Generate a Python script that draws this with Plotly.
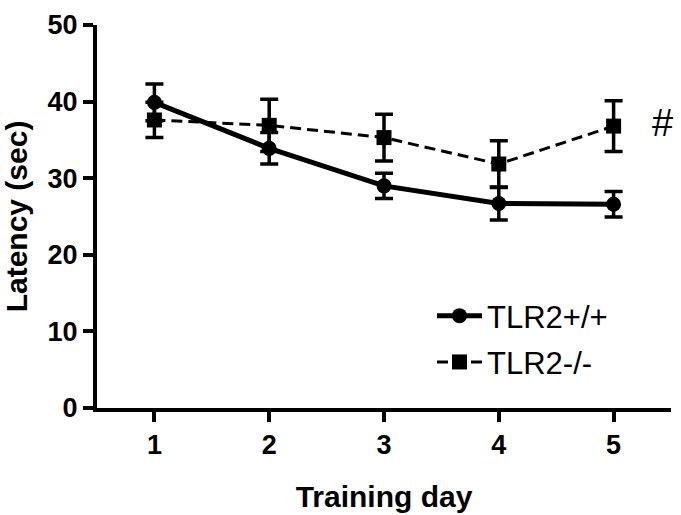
import plotly.graph_objects as go

days = [1, 2, 3, 4, 5]
tick_labels = ["1", "2", "3", "4", "5"]
wt_mean = [39.9, 33.9, 29.0, 26.7, 26.6]
wt_sem = [2.4, 2.05, 1.65, 2.15, 1.65]
ko_mean = [37.6, 36.9, 35.3, 31.85, 36.8]
ko_sem = [2.3, 3.4, 3.05, 3.05, 3.3]
y_ticks = [0, 10, 20, 30, 40, 50]

FONT = "Liberation Sans, Arial, sans-serif"

fig = go.Figure()
fig.add_trace(go.Scatter(
    x=days, y=ko_mean, name="TLR2-/-", mode="lines+markers",
    line=dict(color="black", width=3, dash="11px,6px"),
    marker=dict(symbol="square", size=15, color="black"),
    error_y=dict(type="data", array=ko_sem, visible=True, color="black", thickness=3.5, width=9),
    legendrank=2, legendgroup="ko",
))
fig.add_trace(go.Scatter(
    x=days, y=wt_mean, name="TLR2+/+", mode="lines+markers",
    line=dict(color="black", width=5),
    marker=dict(symbol="circle", size=15, color="black"),
    error_y=dict(type="data", array=wt_sem, visible=True, color="black", thickness=3.5, width=9),
    legendrank=1, legendgroup="wt",
))

fig.add_annotation(x=5.43, y=37.2, xref="x", yref="y", text="#", showarrow=False,
                   font=dict(family=FONT, size=38, color="black"))

fig.update_layout(
    width=681, height=515,
    margin=dict(l=97, r=10, t=25, b=107, autoexpand=False),
    paper_bgcolor="white", plot_bgcolor="white",
    font=dict(family=FONT, color="black"),
    legend=dict(x=(432 - 97) / 574, y=(408 - 289) / 383, xanchor="left", yanchor="top",
                font=dict(family=FONT, size=31, color="black"),
                bgcolor="rgba(0,0,0,0)", itemwidth=45, tracegroupgap=3),
    showlegend=True,
)
fig.update_xaxes(
    range=[0.5, 5.5], tickvals=days, ticktext=tick_labels, automargin=False,
    showline=True, linecolor="black", linewidth=4,
    ticks="outside", ticklen=10, tickwidth=3.5, tickcolor="black",
    showgrid=False, zeroline=False,
    tickfont=dict(family=FONT, size=27, color="black", weight="bold"),
    title=dict(text="<b>Training day</b>", font=dict(family=FONT, size=30, color="black"), standoff=28),
)
fig.update_yaxes(
    range=[0, 50], tickvals=y_ticks, automargin=False,
    showline=True, linecolor="black", linewidth=4,
    ticks="outside", ticklen=10, tickwidth=3.5, tickcolor="black",
    showgrid=False, zeroline=False,
    tickfont=dict(family=FONT, size=27, color="black", weight="bold"),
    title=dict(text="<b>Latency (sec)</b>", font=dict(family=FONT, size=30, color="black"), standoff=16),
)

fig.write_html("out.html", config={"displayModeBar": False},
               post_script="document.body.style.margin='0px';document.body.style.overflow='hidden';")
